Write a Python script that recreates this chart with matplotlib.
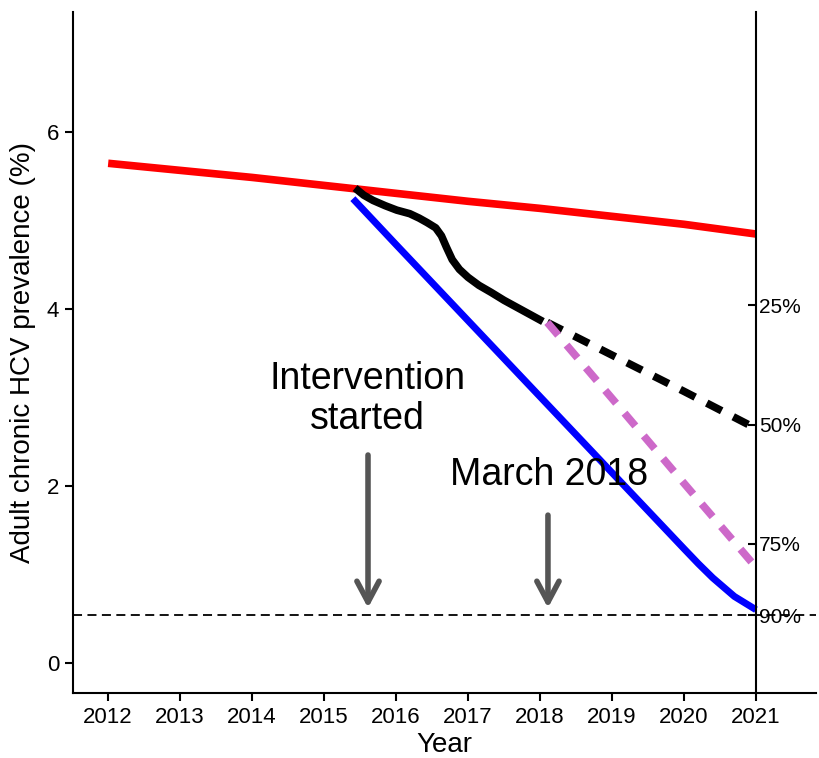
import matplotlib.pyplot as plt

plt.rcParams['font.family'] = ['Liberation Sans', 'DejaVu Sans']

# status quo (no intervention)
red_years = [2012, 2013, 2014, 2015, 2016, 2017, 2018, 2019, 2020, 2021]
red_prev = [5.65, 5.57, 5.49, 5.40, 5.31, 5.22, 5.14, 5.05, 4.96, 4.85]

# target trajectory
blue_years = [2015.4, 2016, 2017, 2018, 2019, 2020, 2020.2, 2020.4,
              2020.7, 2021]
blue_prev = [5.25, 4.73, 3.87, 3.01, 2.15, 1.29, 1.12, 0.96, 0.75, 0.60]

# observed so far
obs_years = [2015.43, 2015.55, 2015.68, 2015.85, 2016.01, 2016.19, 2016.32,
             2016.43, 2016.55, 2016.63, 2016.70, 2016.78, 2016.88, 2017.0,
             2017.15, 2017.32, 2017.50, 2017.68, 2017.86, 2018.04]
obs_prev = [5.37, 5.29, 5.23, 5.17, 5.12, 5.08, 5.03, 4.98, 4.92, 4.83,
            4.70, 4.56, 4.45, 4.36, 4.27, 4.19, 4.10, 4.02, 3.94, 3.86]

# projections from March 2018
proj_years = [2018.1, 2019, 2020, 2021]
proj_current = [3.85, 3.48, 3.07, 2.65]
proj_scaled = [3.85, 2.99, 2.03, 1.08]

baseline = 5.39
reductions = [25, 50, 75, 90]
target_line = 0.54

fig = plt.figure(figsize=(8.19, 7.58), dpi=100)
ax = fig.add_axes([0.089, 0.086, 0.907, 0.898])

ax.plot(red_years, red_prev, color='#FF0000', lw=5.5, solid_capstyle='butt')
ax.plot(blue_years, blue_prev, color='#0000FF', lw=5.0, solid_capstyle='butt',
        solid_joinstyle='round')
ax.plot(obs_years, obs_prev, color='black', lw=5.5, solid_capstyle='butt',
        solid_joinstyle='round')
ax.plot(proj_years, proj_current, color='black', lw=5.5, ls=(0, (2.2, 1.7)))
ax.plot(proj_years, proj_scaled, color='#CD69C9', lw=5.5, ls=(0, (2.2, 1.7)))
ax.axhline(target_line, color='black', lw=1.3, ls=(0, (5, 3)))

arrow = dict(arrowstyle='->,head_length=0.75,head_width=0.4',
             color='#555555', lw=4, mutation_scale=20, shrinkA=0, shrinkB=0)
ax.annotate('', xy=(2015.61, 0.62), xytext=(2015.61, 2.35), arrowprops=arrow)
ax.annotate('', xy=(2018.11, 0.62), xytext=(2018.11, 1.67), arrowprops=arrow)
ax.text(2015.6, 2.98, 'Intervention\nstarted', ha='center', va='center',
        fontsize=27, linespacing=1.15)
ax.text(2018.12, 2.12, 'March 2018', ha='center', va='center', fontsize=27)

ax.set_xlim(2011.51, 2021.83)
ax.set_ylim(-0.34, 7.36)
ax.set_xticks(red_years)
ax.set_yticks([0, 2, 4, 6])
ax.set_xlabel('Year', fontsize=20, labelpad=3)
ax.set_ylabel('Adult chronic HCV prevalence (%)', fontsize=20, labelpad=8)
ax.tick_params(labelsize=16, width=1.5, length=6, direction='out', pad=4)
ax.spines['top'].set_visible(False)
ax.spines['right'].set_visible(False)
for s in ['left', 'bottom']:
    ax.spines[s].set_linewidth(1.5)

# reduction scale on a vertical axis at 2021
ax2 = ax.twinx()
ax2.set_ylim(ax.get_ylim())
ax2.spines['right'].set_position(('data', 2021))
ax2.spines['right'].set_linewidth(1.5)
for s in ['top', 'left', 'bottom']:
    ax2.spines[s].set_visible(False)
ax2.set_yticks([baseline * (1 - r / 100) for r in reductions])
ax2.set_yticklabels([f'{r}%' for r in reductions])
ax2.tick_params(axis='y', direction='in', length=6, width=1.5, labelsize=15, pad=2)

fig.savefig('out.png', dpi=100)
